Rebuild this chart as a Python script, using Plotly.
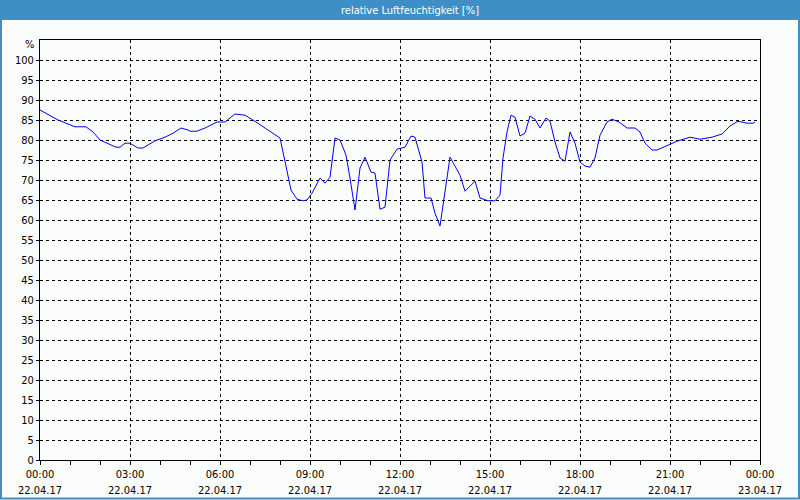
import plotly.graph_objects as go

# time of day (22.04.17) and relative humidity [%]
times = ["00:00","00:36","01:10","01:32","01:46","02:00","02:32","02:40","02:50","03:00",
         "03:16","03:26","03:50","04:10","04:26","04:42","04:56","05:00","05:14","05:30",
         "05:54","06:10","06:30","06:50","07:06","07:24","07:44","08:00","08:06","08:14",
         "08:22","08:34","08:46","08:54","09:04","09:20","09:30","09:40","09:50","10:00",
         "10:12","10:20","10:30","10:40","10:50","11:02","11:10","11:20","11:30","11:40",
         "11:54","12:10","12:22","12:30","12:44","12:50","13:02","13:10","13:20","13:40",
         "14:00","14:10","14:30","14:40","14:56","15:10","15:20","15:26","15:34","15:42",
         "15:50","16:00","16:10","16:20","16:30","16:40","16:52","17:00","17:10","17:20",
         "17:30","17:40","17:50","18:00","18:10","18:20","18:30","18:40","18:54","19:04",
         "19:18","19:34","19:50","20:00","20:10","20:24","20:34","20:56","21:14","21:40",
         "22:00","22:24","22:44","23:00","23:16","23:34","23:46","23:50"]
humidity = [87.5,85.0,83.3,83.3,82.0,80.0,78.2,78.2,79.2,79.2,
            78.0,78.0,79.8,80.7,81.7,83.0,82.5,82.2,82.2,83.0,
            84.5,84.5,86.5,86.2,85.0,83.5,82.0,80.5,77.0,72.0,
            67.5,65.2,64.8,65.0,66.7,70.5,69.2,70.7,80.5,80.0,
            76.2,70.5,62.5,73.0,75.7,72.0,71.7,62.7,63.2,75.0,
            77.7,78.2,81.0,80.7,74.5,65.5,65.5,61.7,58.5,75.7,
            71.2,67.2,69.7,65.5,64.8,64.8,66.2,75.5,82.0,86.2,
            85.7,81.0,81.7,86.0,85.2,83.0,85.5,84.7,79.5,75.5,
            74.7,82.0,79.2,74.5,73.5,73.2,75.5,81.2,84.5,85.2,
            84.5,83.0,83.0,82.0,79.2,77.5,77.5,78.7,79.7,80.7,
            80.2,80.7,81.5,83.5,84.7,84.2,84.2,84.5]

tick_dt = ["2017-04-22 00:00","2017-04-22 03:00","2017-04-22 06:00","2017-04-22 09:00",
           "2017-04-22 12:00","2017-04-22 15:00","2017-04-22 18:00","2017-04-22 21:00",
           "2017-04-23 00:00"]
tick_time = ["00:00","03:00","06:00","09:00","12:00","15:00","18:00","21:00","00:00"]
tick_date = ["22.04.17"]*8 + ["23.04.17"]
y_ticks = list(range(0, 101, 5))

title = "relative Luftfeuchtigkeit [%]"
FONT = "DejaVu Sans Condensed, DejaVu Sans, sans-serif"
BLUE = "#3d8fc6"

x_full = ["2017-04-22 " + t for t in times]

fig = go.Figure()
fig.add_trace(go.Scatter(x=x_full, y=humidity, mode="lines",
                         line=dict(color="#0000ff", width=1), showlegend=False))

W, H = 800, 500
L, R, T, B = 40, 40, 40, 40
pw, ph = W - L - R, H - T - B

def px_x(px):
    return (px - L) / pw

def px_y(py):
    return (H - B - py) / ph

shapes = [
    dict(type="rect", xref="paper", yref="paper", x0=px_x(0), x1=px_x(800),
         y0=px_y(20), y1=px_y(0), fillcolor=BLUE, line=dict(width=0), layer="above"),
    dict(type="rect", xref="paper", yref="paper", x0=px_x(1), x1=px_x(799),
         y0=px_y(498.5), y1=px_y(15), line=dict(color=BLUE, width=2), fillcolor="rgba(0,0,0,0)"),
]

annotations = [
    dict(text=title, xref="paper", yref="paper", x=px_x(410), y=px_y(10),
         showarrow=False, font=dict(family=FONT, size=11, color="white"),
         xanchor="center", yanchor="middle"),
    dict(text="%", xref="paper", yref="paper", x=px_x(36), y=px_y(45),
         showarrow=False, font=dict(family=FONT, size=11, color="black"),
         xanchor="right", yanchor="middle"),
]
for d, lbl in zip(tick_dt, tick_date):
    annotations.append(dict(text=lbl, xref="x", yref="paper", x=d, y=px_y(490),
                            showarrow=False, font=dict(family=FONT, size=11, color="black"),
                            xanchor="center", yanchor="middle"))

fig.update_layout(
    width=W, height=H,
    margin=dict(l=L, r=R, t=T, b=B),
    paper_bgcolor="#fbfdfc", plot_bgcolor="#fbfdfc",
    font=dict(family=FONT, size=11, color="black"),
    shapes=shapes, annotations=annotations,
    xaxis=dict(type="date", range=["2017-04-22 00:00", "2017-04-23 00:00"],
               tickvals=tick_dt, ticktext=tick_time,
               showgrid=True, gridcolor="black", gridwidth=1, griddash="3px,3px",
               showline=True, linecolor="black", linewidth=1, mirror=True,
               ticks="outside", ticklen=4, tickcolor="black",
               minor=dict(dtick=3600000, ticks="outside", ticklen=4, tickcolor="black", showgrid=False),
               zeroline=False, fixedrange=True),
    yaxis=dict(range=[0, 105], tickvals=y_ticks,
               showgrid=True, gridcolor="black", gridwidth=1, griddash="3px,3px",
               showline=True, linecolor="black", linewidth=1, mirror=True,
               ticks="outside", ticklen=3, tickcolor="black",
               zeroline=False, fixedrange=True),
)

fig.write_html("out.html", config={"displayModeBar": False},
               post_script="document.body.style.margin='0';document.body.style.padding='0';"
                           "document.body.style.overflow='hidden';")
